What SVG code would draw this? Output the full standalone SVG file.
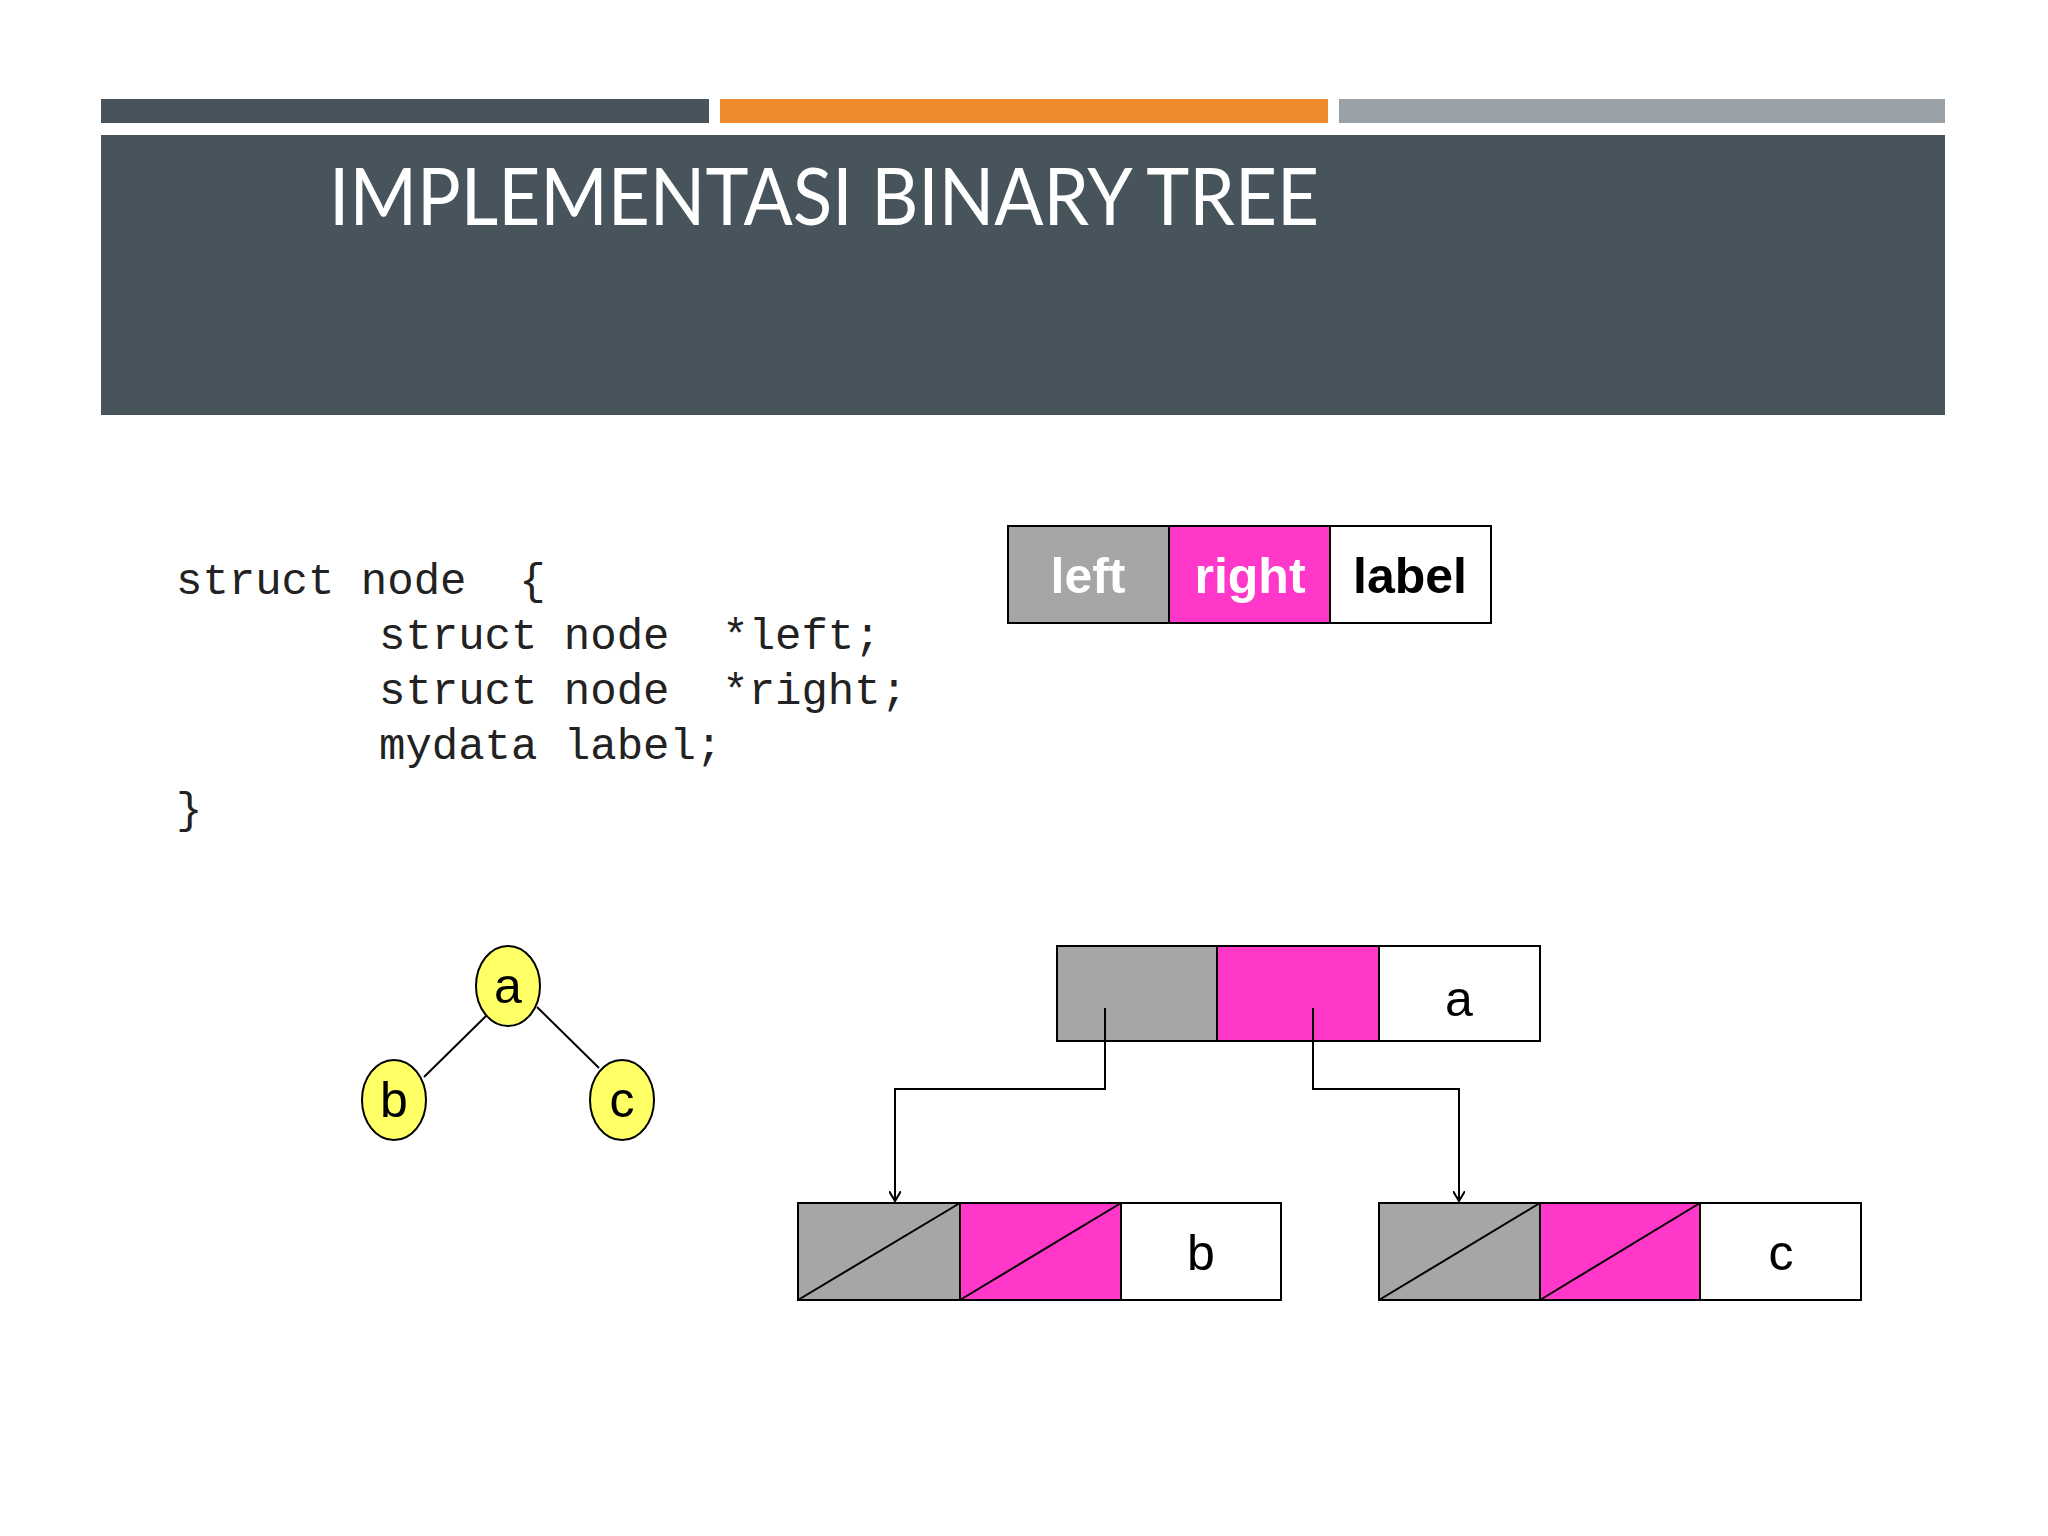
<svg xmlns="http://www.w3.org/2000/svg" width="2048" height="1536" viewBox="0 0 2048 1536">
<style>
.code{font-family:"Liberation Mono","Courier New",monospace;font-size:44px;fill:#222}
.box{stroke:#000;stroke-width:2}
.g{fill:#a6a6a6}.m{fill:#ff38c9}.w{fill:#fff}
.lbl{font-family:"Liberation Sans",Arial,sans-serif;font-size:50px;font-weight:bold;text-anchor:middle}
.t{font-family:"Liberation Sans",Arial,sans-serif;font-size:50px;text-anchor:middle;fill:#000}
.edge{stroke:#000;stroke-width:2;fill:none}
</style>
<defs><marker id="ah" markerWidth="12" markerHeight="12" refX="10" refY="6" orient="auto" markerUnits="userSpaceOnUse"><path d="M0,0 L10,6 L0,12" fill="none" stroke="#000" stroke-width="2"/></marker></defs>
<rect width="2048" height="1536" fill="#fff"/>
<rect x="101" y="99" width="608" height="24" fill="#48545b"/>
<rect x="720" y="99" width="608" height="24" fill="#ef8a2e"/>
<rect x="1339" y="99" width="606" height="24" fill="#99a1a6"/>
<rect x="101" y="135" width="1844" height="280" fill="#48545b"/>
<text x="329" y="225" font-family="Lato,'Open Sans',sans-serif" font-size="80" fill="#fff" textLength="990" lengthAdjust="spacingAndGlyphs">IMPLEMENTASI BINARY TREE</text>
<g id="code">
<text class="code" x="176" y="594" xml:space="preserve">struct node  {</text>
<text class="code" x="379" y="649" xml:space="preserve">struct node  *left;</text>
<text class="code" x="379" y="704" xml:space="preserve">struct node  *right;</text>
<text class="code" x="379" y="759" xml:space="preserve">mydata label;</text>
<text class="code" x="176" y="823">}</text>
</g>
<g id="legend">
<rect class="box g" x="1008" y="526" width="161" height="97"/>
<rect class="box m" x="1169" y="526" width="161" height="97"/>
<rect class="box w" x="1330" y="526" width="161" height="97"/>
<text class="lbl" x="1088" y="593" fill="#fff">left</text>
<text class="lbl" x="1250" y="593" fill="#fff">right</text>
<text class="lbl" x="1410" y="593" fill="#000">label</text>
</g>
<g id="tree-edges">
<line class="edge" x1="486" y1="1016" x2="424" y2="1077"/>
<line class="edge" x1="537" y1="1007" x2="599" y2="1068"/>
</g>
<g id="tree-a"><ellipse cx="508" cy="986" rx="32" ry="40" fill="#ffff66" stroke="#000" stroke-width="2"/><text class="t" x="508" y="1003">a</text></g>
<g id="tree-b"><ellipse cx="394" cy="1100" rx="32" ry="40" fill="#ffff66" stroke="#000" stroke-width="2"/><text class="t" x="394" y="1117">b</text></g>
<g id="tree-c"><ellipse cx="622" cy="1100" rx="32" ry="40" fill="#ffff66" stroke="#000" stroke-width="2"/><text class="t" x="622" y="1117">c</text></g>
<g id="node-a">
<rect class="box g" x="1057" y="946" width="160" height="95"/>
<rect class="box m" x="1217" y="946" width="162" height="95"/>
<rect class="box w" x="1379" y="946" width="161" height="95"/>
<text class="t" x="1459" y="1016">a</text>
</g>
<g id="node-b">
<rect class="box g" x="798" y="1203" width="162" height="97"/>
<rect class="box m" x="960" y="1203" width="161" height="97"/>
<rect class="box w" x="1121" y="1203" width="160" height="97"/>
<line class="edge" x1="798" y1="1300" x2="960" y2="1203"/>
<line class="edge" x1="960" y1="1300" x2="1121" y2="1203"/>
<text class="t" x="1201" y="1270">b</text>
</g>
<g id="node-c">
<rect class="box g" x="1379" y="1203" width="161" height="97"/>
<rect class="box m" x="1540" y="1203" width="160" height="97"/>
<rect class="box w" x="1700" y="1203" width="161" height="97"/>
<line class="edge" x1="1379" y1="1300" x2="1540" y2="1203"/>
<line class="edge" x1="1540" y1="1300" x2="1700" y2="1203"/>
<text class="t" x="1781" y="1270">c</text>
</g>
<g id="connectors">
<polyline class="edge" points="1105,1008 1105,1089 895,1089 895,1201" marker-end="url(#ah)"/>
<polyline class="edge" points="1313,1008 1313,1089 1459,1089 1459,1201" marker-end="url(#ah)"/>
</g>
</svg>
